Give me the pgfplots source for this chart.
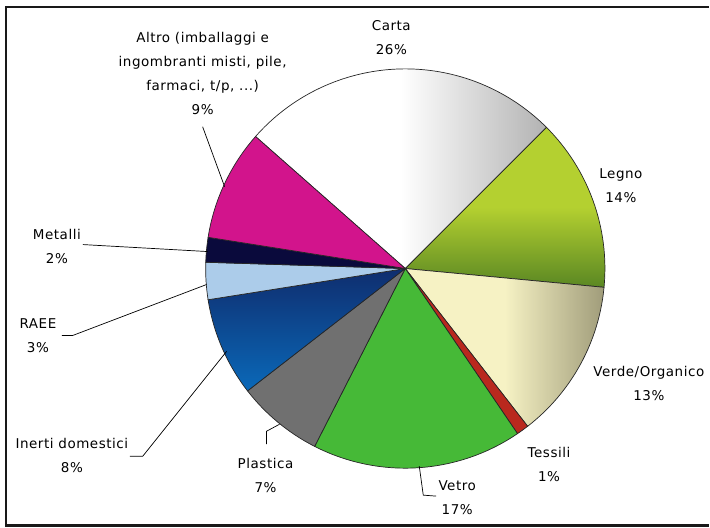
\documentclass[border=0pt]{standalone}
\usepackage{pgfplots}
\pgfplotsset{compat=1.18}
\usepackage{pgfplotstable}
\usepackage{fontspec}
\setmainfont{DejaVu Sans}[LetterSpace=4]

\definecolor{legnoA}{RGB}{180,208,48}
\definecolor{legnoB}{RGB}{90,135,35}
\definecolor{verdeA}{RGB}{246,242,196}
\definecolor{verdeB}{RGB}{160,156,122}
\definecolor{tessili}{RGB}{185,40,30}
\definecolor{vetro}{RGB}{70,185,55}
\definecolor{plastica}{RGB}{112,112,112}
\definecolor{inertiA}{RGB}{15,45,110}
\definecolor{inertiB}{RGB}{10,105,185}
\definecolor{raee}{RGB}{172,204,234}
\definecolor{metalli}{RGB}{10,10,60}
\definecolor{altro}{RGB}{210,20,140}

\tikzset{
  sCarta/.style={shade, left color=white, right color=black!30, middle color=white},
  sLegno/.style={shade, top color=legnoA, bottom color=legnoB, middle color=legnoA},
  sVerde/.style={shade, left color=verdeA, right color=verdeB, middle color=verdeA},
  sTessili/.style={fill=tessili},
  sVetro/.style={fill=vetro},
  sPlastica/.style={fill=plastica},
  sInerti/.style={shade, top color=inertiA, bottom color=inertiB},
  sRAEE/.style={fill=raee},
  sMetalli/.style={fill=metalli},
  sAltro/.style={fill=altro},
  lab/.style={align=center, font=\fontsize{13.5}{24}\selectfont},
}

% percentages, clockwise from the Altro/Carta edge
\pgfplotstableread{
name pct style
Carta 26 sCarta
Legno 14 sLegno
Verde 13 sVerde
Tessili 1 sTessili
Vetro 17 sVetro
Plastica 7 sPlastica
Inerti 8 sInerti
RAEE 3 sRAEE
Metalli 2 sMetalli
Altro 9 sAltro
}\piedata

\begin{document}
\begin{tikzpicture}
\begin{axis}[
    x=1pt, y=1pt,
    xmin=0, xmax=710, ymin=0, ymax=528,
    hide axis,
    clip=false,
]
\path (axis cs:0,0) rectangle (axis cs:710,528);

% --- slices ---
\def\astart{138.6}
\pgfplotsforeachungrouped \i in {0,...,9}{%
  \pgfplotstablegetelem{\i}{pct}\of\piedata \let\p\pgfplotsretval
  \pgfplotstablegetelem{\i}{style}\of\piedata \let\st\pgfplotsretval
  \pgfmathsetmacro\aend{\astart-3.6*\p}%
  \edef\cmd{\noexpand\path[\st, draw=black!85, line width=0.7pt]
    (axis cs:406,259) -- ++(\astart:200pt)
    arc[start angle=\astart, end angle=\aend, radius=200pt] -- cycle;}%
  \cmd
  \let\astart\aend
}

% --- leader lines ---
\addplot[black, line width=0.7pt] coordinates {(203,401) (225,341)};
\addplot[black, line width=0.7pt] coordinates {(83,283) (208,276)};
\addplot[black, line width=0.7pt] coordinates {(62,192) (73,192) (207,243)};
\addplot[black, line width=0.7pt] coordinates {(130,71) (143,71) (227,176)};
\addplot[black, line width=0.7pt] coordinates {(267,83) (267,96) (280,103)};
\addplot[black, line width=0.7pt] coordinates {(420,61) (424,32) (437,31)};

% --- labels ---
\node[lab] at (axis cs:392,490) {Carta\\26\%};
\node[lab] at (axis cs:203,454) {Altro (imballaggi e\\ingombranti misti, pile,\\farmaci, t/p, ...)\\9\%};
\node[lab] at (axis cs:622,342) {Legno\\14\%};
\node[lab] at (axis cs:650,144) {Verde/Organico\\13\%};
\node[lab] at (axis cs:550,63) {Tessili\\1\%};
\node[lab] at (axis cs:458,29) {Vetro\\17\%};
\node[lab] at (axis cs:266,52) {Plastica\\7\%};
\node[lab] at (axis cs:72,72) {Inerti domestici\\8\%};
\node[lab] at (axis cs:38,192) {RAEE\\3\%};
\node[lab] at (axis cs:57,281) {Metalli\\2\%};

% --- frame ---
\addplot[black!90, line width=2.5pt] coordinates {(710,521) (6,521) (6,1.5) (710,1.5)};
\end{axis}
\end{tikzpicture}
\end{document}
